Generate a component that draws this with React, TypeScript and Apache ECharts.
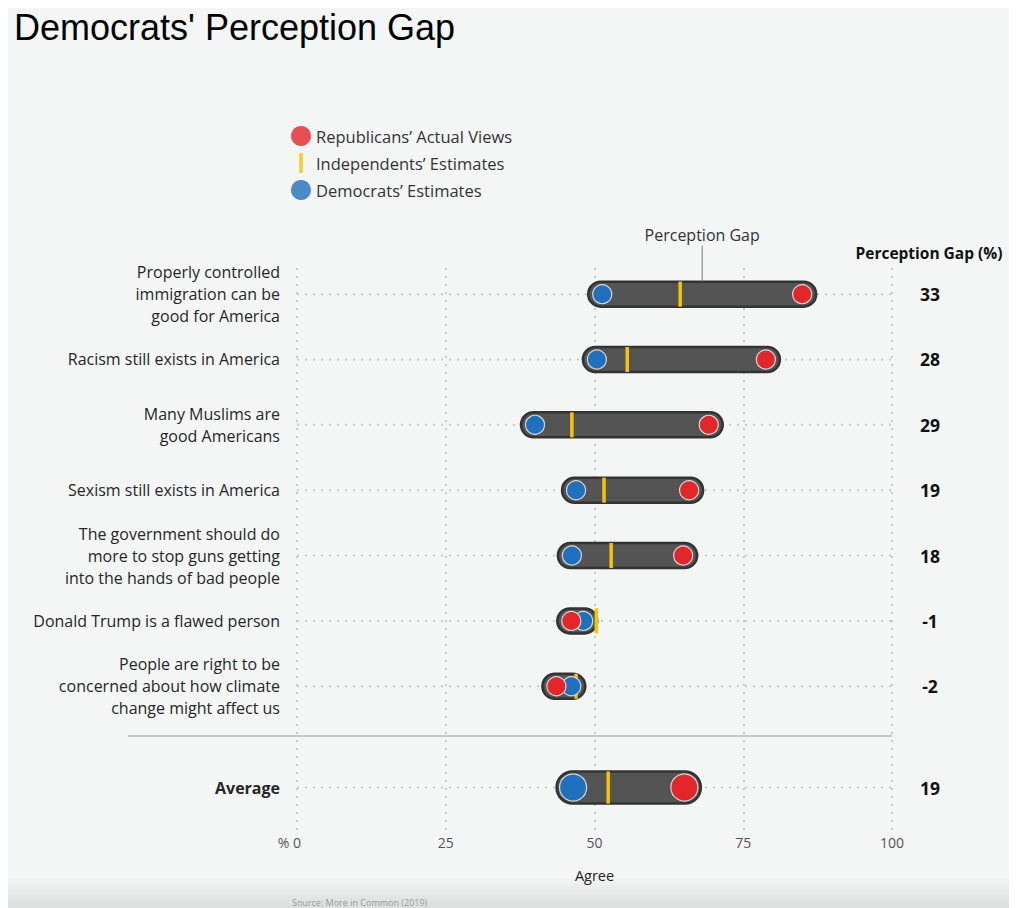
import React, { useEffect, useRef } from "react";
import * as echarts from "echarts";

// ---- data ----
const rowLabels = [
  "Properly controlled\nimmigration can be\ngood for America",
  "Racism still exists in America",
  "Many Muslims are\ngood Americans",
  "Sexism still exists in America",
  "The government should do\nmore to stop guns getting\ninto the hands of bad people",
  "Donald Trump is a flawed person",
  "People are right to be\nconcerned about how climate\nchange might affect us",
];
const demEstimates = [51.3, 50.4, 40.0, 46.9, 46.2, 48.1, 46.1];
const indEstimates = [64.4, 55.5, 46.2, 51.6, 52.8, 50.3, 46.9];
const repActual = [84.9, 78.8, 69.2, 65.9, 64.9, 46.1, 43.6];
const gapValues = [33, 28, 29, 19, 18, -1, -2];

const averageLabel = "Average";
const averageDem = 46.4;
const averageInd = 52.3;
const averageRep = 65.1;
const averageGap = 19;

const xTicks = [0, 25, 50, 75, 100];
const legendNames = [
  "Republicans’ Actual Views",
  "Independents’ Estimates",
  "Democrats’ Estimates",
];

// ---- layout constants ----
const AVG_POS = 7.55;
const SEP_POS = 6.76;
const FONT = "'Open Sans', Lato, sans-serif";
const RED = "#e3262a";
const BLUE = "#1f70bd";
const YELLOW = "#f6c400";

export default function App() {
  const ref = useRef<HTMLDivElement>(null);

  useEffect(() => {
    const chart = echarts.init(ref.current!, null, { renderer: "svg" });

    const labels = [...rowLabels, averageLabel];
    const dem = [...demEstimates, averageDem];
    const ind = [...indEstimates, averageInd];
    const rep = [...repActual, averageRep];
    const gaps = [...gapValues, averageGap];
    const ypos = labels.map((_, i) => (i < rowLabels.length ? i : AVG_POS));
    const data = labels.map((_, i) => [dem[i], ypos[i], ind[i], rep[i], gaps[i]]);

    const renderItem = (params: any, api: any) => {
      const i = params.dataIndex;
      const isAvg = i === labels.length - 1;
      const y = ypos[i];
      const [xd, yc] = api.coord([dem[i], y]);
      const xi = api.coord([ind[i], y])[0];
      const xr = api.coord([rep[i], y])[0];
      const x0 = api.coord([0, y])[0];
      const x100 = api.coord([100, y])[0];
      const h = isAvg ? 32 : 25;
      const ext = isAvg ? 16.5 : 14;
      const r = isAvg ? 13.5 : 9.5;
      const left = Math.min(xd, xr) - ext;
      const right = Math.max(xd, xr) + ext;
      const children: any[] = [];

      children.push({
        type: "line",
        shape: { x1: x0, y1: yc, x2: x100, y2: yc },
        style: { stroke: "#c9cbcb", lineWidth: 2, lineDash: [2, 6] },
      });
      children.push({
        type: "rect",
        shape: { x: left, y: yc - h / 2, width: right - left, height: h, r: h / 2 },
        style: { fill: "#545454", stroke: "#333333", lineWidth: 2.5 },
      });
      children.push({
        type: "rect",
        shape: { x: xi - 1.75, y: yc - h / 2, width: 3.5, height: h },
        style: { fill: YELLOW },
      });
      children.push({
        type: "circle",
        shape: { cx: xd, cy: yc, r },
        style: { fill: BLUE, stroke: "#d8d8d8", lineWidth: 1.2 },
      });
      children.push({
        type: "circle",
        shape: { cx: xr, cy: yc, r },
        style: { fill: RED, stroke: "#d8d8d8", lineWidth: 1.2 },
      });
      children.push({
        type: "text",
        style: {
          x: x0 - 17,
          y: yc,
          text: labels[i],
          align: "right",
          verticalAlign: "middle",
          fontFamily: FONT,
          fontSize: 16,
          fontWeight: isAvg ? "bold" : "normal",
          lineHeight: 22,
          fill: "#262626",
        },
      });
      children.push({
        type: "text",
        style: {
          x: x100 + 38,
          y: yc,
          text: String(gaps[i]),
          align: "center",
          verticalAlign: "middle",
          fontFamily: FONT,
          fontSize: 17.5,
          fontWeight: "bold",
          fill: "#111111",
        },
      });

      if (i === 0) {
        const mid = (xd + xr) / 2;
        const top = yc - h / 2;
        children.push({
          type: "line",
          shape: { x1: mid, y1: top - 36, x2: mid, y2: top },
          style: { stroke: "#777777", lineWidth: 1 },
        });
        children.push({
          type: "text",
          style: {
            x: mid,
            y: top - 47,
            text: "Perception Gap",
            align: "center",
            verticalAlign: "middle",
            fontFamily: FONT,
            fontSize: 16,
            fill: "#333333",
          },
        });
        children.push({
          type: "text",
          style: {
            x: x100 + 37,
            y: yc - 41,
            text: "Perception Gap (%)",
            align: "center",
            verticalAlign: "middle",
            fontFamily: FONT,
            fontSize: 15.5,
            fontWeight: "bold",
            fill: "#111111",
          },
        });
      }
      if (isAvg) {
        const ys = api.coord([0, SEP_POS])[1];
        children.unshift({
          type: "line",
          shape: { x1: 120, y1: ys, x2: x100, y2: ys },
          style: { stroke: "#c8c8c8", lineWidth: 2 },
        });
      }
      return { type: "group", children };
    };

    const option: any = {
      animation: false,
      backgroundColor: "#f4f6f6",
      textStyle: { fontFamily: FONT },
      grid: { left: 289, right: 121, top: 260, bottom: 78 },
      xAxis: {
        type: "value",
        min: 0,
        max: 100,
        interval: 25,
        axisLine: { show: false },
        axisTick: { show: false },
        splitLine: {
          show: true,
          lineStyle: { color: "#c9cbcb", width: 2, type: [2, 6] },
        },
        axisLabel: {
          margin: 5,
          color: "#555555",
          fontSize: 14,
          fontFamily: FONT,
          formatter: (v: number) =>
            v === xTicks[0] ? "{p|% }" + v + "{q| %}" : String(v),
          rich: {
            p: { color: "#555555", fontSize: 14, fontFamily: FONT },
            q: { color: "rgba(0,0,0,0)", fontSize: 14, fontFamily: FONT },
          },
        },
        name: "Agree",
        nameLocation: "middle",
        nameGap: 38,
        nameTextStyle: { color: "#222222", fontSize: 14.5, fontFamily: FONT },
      },
      yAxis: {
        type: "value",
        inverse: true,
        min: -0.4,
        max: 8.2,
        show: false,
      },
      legend: {
        orient: "vertical",
        left: 278,
        top: 113,
        itemWidth: 20,
        itemHeight: 20,
        itemGap: 7,
        textStyle: { fontSize: 16.5, color: "#333333", fontFamily: FONT },
        data: [
          { name: legendNames[0], icon: "circle" },
          { name: legendNames[1], icon: "path://M0,0h4v22h-4z" },
          { name: legendNames[2], icon: "circle" },
        ],
      },
      graphic: [
        {
          type: "rect",
          left: 0,
          top: 868,
          z: -10,
          shape: { width: 1005, height: 32 },
          style: {
            fill: new echarts.graphic.LinearGradient(0, 0, 0, 1, [
              { offset: 0, color: "rgba(0,0,0,0)" },
              { offset: 1, color: "rgba(0,0,0,0.1)" },
            ]),
          },
        },
        {
          type: "text",
          left: 6,
          top: 1,
          style: {
            text: "Democrats' Perception Gap",
            fontFamily: "'Liberation Sans', Arial, sans-serif",
            fontSize: 36,
            fill: "#000000",
          },
        },
        {
          type: "text",
          left: 284,
          top: 890,
          style: {
            text: "Source: More in Common (2019)",
            fontFamily: FONT,
            fontSize: 9,
            fill: "#9a9a9a",
          },
        },
      ],
      series: [
        {
          name: legendNames[0],
          type: "scatter",
          data: [],
          itemStyle: { color: RED },
        },
        {
          name: legendNames[1],
          type: "scatter",
          data: [],
          itemStyle: { color: YELLOW },
        },
        {
          name: legendNames[2],
          type: "scatter",
          data: [],
          itemStyle: { color: BLUE },
        },
        {
          type: "custom",
          renderItem,
          data,
          encode: { x: 0, y: 1 },
          clip: false,
          silent: true,
        },
      ],
    };

    chart.setOption(option);
    return () => chart.dispose();
  }, []);

  return (
    <div
      ref={ref}
      style={{ width: 1005, height: 900, background: "#f4f6f6" }}
    />
  );
}
